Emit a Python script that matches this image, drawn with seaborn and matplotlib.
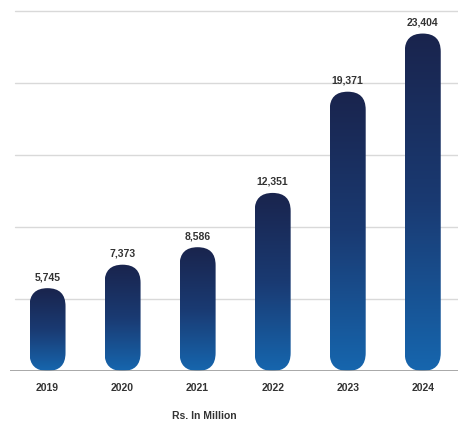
import numpy as np
import pandas as pd
import matplotlib
matplotlib.use("Agg")
import matplotlib.pyplot as plt
import seaborn as sns
from matplotlib.patches import FancyBboxPatch
from matplotlib.colors import LinearSegmentedColormap

years = ["2019", "2020", "2021", "2022", "2023", "2024"]
values = [5745, 7373, 8586, 12351, 19371, 23404]
value_labels = ["5,745", "7,373", "8,586", "12,351", "19,371", "23,404"]
axis_caption = "Rs. In Million"

sns.set_theme(style="white")
plt.rcParams["font.family"] = ["Liberation Sans", "DejaVu Sans"]

W, H = 458, 427
fig = plt.figure(figsize=(W / 100, H / 100), dpi=100)
ax_left, ax_right = 10, 458
ax_bottom, ax_top = 372, 0
ax = fig.add_axes([ax_left / W, (H - ax_bottom) / H,
                   (ax_right - ax_left) / W, (ax_bottom - ax_top) / H])

df = pd.DataFrame({"year": years, "value": values})
sns.barplot(data=df, x="year", y="value", ax=ax, width=0.48,
            color="#1b4f8f", saturation=1)

xlim = (-0.5, 5.47)
ylim = (0, 25800)
ax.set_xlim(*xlim)
ax.set_ylim(*ylim)

# pixel scale of each data unit, used to keep the pill ends circular
px_per_x = (ax_right - ax_left) / (xlim[1] - xlim[0])
px_per_y = (ax_bottom - ax_top) / (ylim[1] - ylim[0])
aspect = px_per_x / px_per_y

cmap = LinearSegmentedColormap.from_list("navy_blue", ["#19244d", "#1a3a72", "#1666ae"])
grad = np.linspace(0, 1, 256).reshape(-1, 1)

for bar, label in zip(ax.patches, value_labels):
    x0, w, h = bar.get_x(), bar.get_width(), bar.get_height()
    bar.set_visible(False)
    r = w / 2
    pill = FancyBboxPatch((x0, 0), w, h,
                          boxstyle=f"round,pad=0,rounding_size={r}",
                          mutation_aspect=aspect,
                          facecolor="none", edgecolor="none", zorder=3)
    ax.add_patch(pill)
    img = ax.imshow(grad, cmap=cmap, aspect="auto",
                    extent=(x0, x0 + w, 0, h), origin="upper",
                    interpolation="bicubic", zorder=3)
    img.set_clip_path(pill)
    ax.text(x0 + w / 2, h + 12 / px_per_y, label, ha="center", va="center",
            fontsize=7.5, fontweight="bold", color="#333333", zorder=4)

ax.set_xlim(*xlim)
ax.set_ylim(*ylim)

for g in [5000, 10000, 15000, 20000, 25000]:
    ax.axhline(g, xmin=(15 - ax_left) / (ax_right - ax_left), xmax=1,
               color="#d9d9d9", linewidth=1.0, zorder=1)
ax.axhline(0, color="#999999", linewidth=1.2, zorder=5)

for s in ax.spines.values():
    s.set_visible(False)
ax.set_yticks([])
ax.set_xlabel("")
ax.set_ylabel("")
ax.tick_params(axis="x", length=0, pad=8, labelsize=7.5, labelcolor="#333333")
for t in ax.get_xticklabels():
    t.set_fontweight("bold")

fig.text(204 / W, 1 - 416 / H, axis_caption, ha="center", va="center",
         fontsize=7.5, fontweight="bold", color="#333333")

fig.savefig("out.png", dpi=100, facecolor="white")
